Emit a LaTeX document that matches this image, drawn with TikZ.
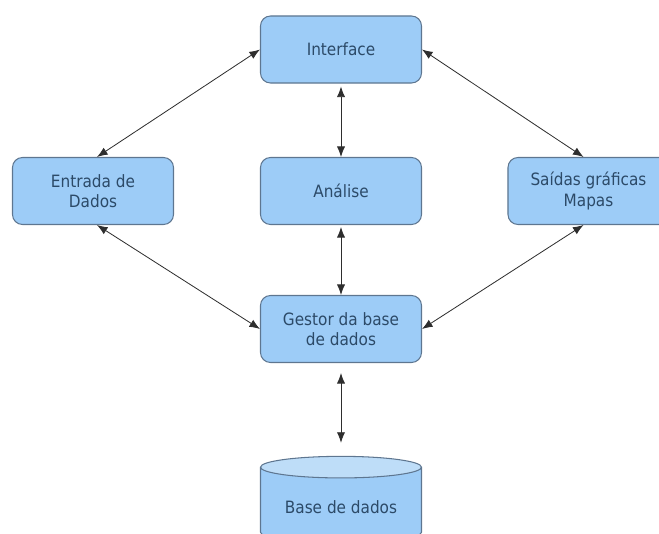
\documentclass[tikz,border=0pt]{standalone}
\usepackage{fontspec}
\setmainfont{DejaVu Sans Condensed}
\usepackage{tikz}
\usetikzlibrary{arrows.meta,shapes.geometric}
\definecolor{caixafundo}{HTML}{9DCCF7}
\definecolor{caixalinha}{HTML}{5E7690}
\definecolor{caixatexto}{HTML}{2C4A68}
\definecolor{tampa}{HTML}{BEDDF8}
\definecolor{setacor}{HTML}{2E2E2E}

\begin{document}
\begin{tikzpicture}[x=0.03cm,y=-0.03cm,
caixa/.style={draw=caixalinha,fill=caixafundo,rounded corners=0.3cm,line width=0.9pt,
  minimum width=4.83cm,minimum height=2.01cm,align=center,text=caixatexto,
  font=\fontsize{14.5}{17.5}\selectfont},
banco/.style={cylinder,shape border rotate=90,aspect=0.18,draw=caixalinha,line width=0.9pt,
  cylinder uses custom fill,cylinder body fill=caixafundo,cylinder end fill=tampa,
  minimum width=4.83cm,minimum height=2.6cm,text=caixatexto,
  font=\fontsize{14.5}{17.5}\selectfont},
seta/.style={{Latex[length=9pt,width=7pt]}-{Latex[length=9pt,width=7pt]},draw=setacor,line width=0.7pt}]
\useasboundingbox (0,0) rectangle (659,534);
\clip (0,0) rectangle (659,534);
\node[caixa] (interface) at (341,49.5) {Interface};
\node[caixa] (entrada) at (93,191) {Entrada de\\Dados};
\node[caixa] (analise) at (341,191) {Análise};
\node[caixa] (saidas) at (588.5,191) {Saídas gráficas\\Mapas};
\node[caixa] (gestor) at (341,329) {Gestor da base\\de dados};
\node[banco] (base) at (341,507) {Base de dados};
\draw[seta] ([xshift=0.12cm]entrada.north) -- (interface.west);
\draw[seta] (interface.east) -- ([xshift=-0.15cm]saidas.north);
\draw[seta] (analise.north) -- ([yshift=-0.09cm]interface.south);
\draw[seta] ([yshift=-0.06cm]analise.south) -- (gestor.north);
\draw[seta] ([xshift=0.12cm]entrada.south) -- (gestor.west);
\draw[seta] (gestor.east) -- ([xshift=-0.15cm]saidas.south);
\draw[seta] ([yshift=-0.3cm]gestor.south) -- ([yshift=0.39cm]base.north);
\end{tikzpicture}
\end{document}
